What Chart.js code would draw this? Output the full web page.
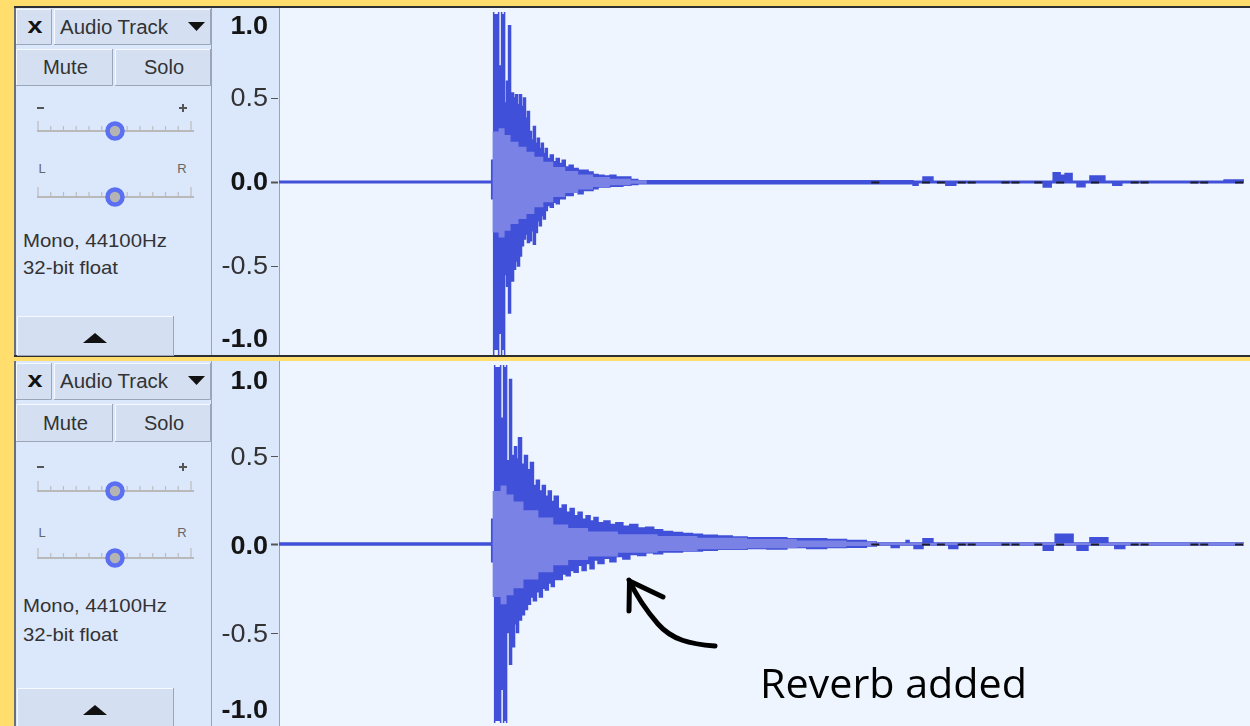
<!DOCTYPE html>
<html><head><meta charset="utf-8">
<script src="https://cdn.jsdelivr.net/npm/chart.js@4.4.1/dist/chart.umd.min.js"></script>
<style>
html,body{margin:0;padding:0}
body{width:1250px;height:726px;overflow:hidden;position:relative;background:#ffde6e;font-family:"Liberation Sans",Arial,sans-serif}
.abs{position:absolute}
.panel{background:#dbe7fb;border-left:2px solid #6a6f78;box-sizing:border-box}
.ruler{background:#dbe7fb;border-left:1px solid #9aa4b4;border-right:1px solid #9aa4b4;box-sizing:border-box}
.wave{background:#eef5ff}
.dark{background:#2e2f33}
</style></head><body>
<div class="abs panel" style="left:14px;top:8px;width:198px;height:348px"></div>
<div class="abs ruler" style="left:211px;top:8px;width:69px;height:348px"></div>
<div class="abs wave" style="left:280px;top:8px;width:970px;height:348px"></div>
<div class="abs dark" style="left:14px;top:6px;width:1236px;height:2px"></div>
<div class="abs dark" style="left:14px;top:355px;width:1236px;height:2px"></div>

<div class="abs panel" style="left:14px;top:361px;width:198px;height:365px"></div>
<div class="abs ruler" style="left:211px;top:361px;width:69px;height:365px"></div>
<div class="abs wave" style="left:280px;top:361px;width:970px;height:365px"></div>

<svg id="panels" class="abs" style="left:0;top:0" width="1250" height="726" font-family="Liberation Sans, Arial, sans-serif"></svg>

<div class="abs" style="left:212px;top:8px;width:1038px;height:348px"><canvas id="track1"></canvas></div>
<div class="abs" style="left:212px;top:361px;width:1038px;height:366px"><canvas id="track2"></canvas></div>

<svg class="abs" style="left:0;top:0" width="1250" height="726">
  <path d="M715,646 C690,644 672,640 658,624 C645,609 636,595 629,580" fill="none" stroke="#000" stroke-width="5" stroke-linecap="round"/>
  <path d="M629,611 L629.5,581 L663,597" fill="none" stroke="#000" stroke-width="5" stroke-linecap="round" stroke-linejoin="round"/>
  <text x="760" y="698" font-family="Open Sans, Noto Sans, sans-serif" font-size="40" textLength="267" lengthAdjust="spacingAndGlyphs" fill="#000">Reverb added</text>
</svg>

<script>
// ---------- data ----------
const trackName = 'Audio Track';
const trackFormat = ['Mono, 44100Hz', '32-bit float'];
const yTicks = [1, 0.5, 0, -0.5, -1];
const yTickLabels = ['1.0', '0.5', '0.0', '-0.5', '-1.0'];
const yTickBold = [true, false, true, false, true];
const timeRangeMs = [0, 1942];

// Track 1 (dry): peak envelope (value holds from its time to the next)
const t1PeakTime = [0,428,432,442,448,454,458,462,466,472,476,480,484,488,492,496,500,504,508,512,516,520,524,528,532,536,540,546,552,558,564,570,576,584,592,602,612,622,632,642,654,666,678,692,708,722,1276,1286,1296,1316,1342,1362,1538,1554,1558,1572,1582,1596,1606,1622,1632,1662,1678,1696,1902,1942];
const t1PeakMax = [0.005,0.13,1.1,0.69,1.1,0.47,0.6,0.93,0.53,0.5,0.52,0.46,0.52,0.45,0.5,0.38,0.42,0.3,0.25,0.33,0.23,0.26,0.2,0.23,0.17,0.2,0.14,0.16,0.12,0.14,0.11,0.13,0.09,0.1,0.08,0.07,0.07,0.06,0.045,0.04,0.035,0.04,0.03,0.03,0.015,0.008,0.005,0.005,0.03,0.005,0.005,0.005,0.005,0.005,0.055,0.04,0.05,0.005,0.005,0.005,0.035,0.005,0.005,0.005,0.012,0.012];
const t1PeakMin = [-0.005,-0.1,-1.1,-0.9,-1.1,-0.55,-0.62,-0.78,-0.59,-0.52,-0.47,-0.5,-0.44,-0.38,-0.34,-0.31,-0.36,-0.35,-0.29,-0.37,-0.3,-0.23,-0.26,-0.2,-0.22,-0.17,-0.14,-0.15,-0.12,-0.13,-0.1,-0.1,-0.08,-0.08,-0.06,-0.07,-0.05,-0.05,-0.04,-0.03,-0.03,-0.025,-0.025,-0.02,-0.015,-0.01,-0.02,-0.005,-0.005,-0.005,-0.02,-0.005,-0.03,-0.005,-0.005,-0.005,-0.005,-0.005,-0.028,-0.005,-0.005,-0.005,-0.02,-0.005,-0.005,-0.005];
const t1RmsTime = [0,430,442,454,466,482,498,514,532,552,576,602,632,666,708,740,1942];
const t1RmsMax = [0,0.3,0.32,0.28,0.24,0.21,0.18,0.15,0.12,0.09,0.065,0.045,0.03,0.02,0.01,0,0];
const t1RmsMin = [0,-0.3,-0.33,-0.29,-0.25,-0.22,-0.19,-0.15,-0.12,-0.09,-0.065,-0.045,-0.03,-0.02,-0.01,0,0];

// Track 2 (reverb added)
const t2PeakTime = [0,428,434,446,452,458,464,468,474,478,482,488,494,500,506,512,518,524,530,536,542,548,554,562,570,578,586,594,602,610,618,626,634,642,654,666,678,692,706,722,738,754,772,792,812,832,852,882,912,942,982,1022,1062,1102,1142,1182,1202,1232,1248,1262,1268,1278,1296,1316,1348,1366,1538,1558,1562,1598,1606,1628,1632,1668,1682,1702,1942];
const t2PeakMax = [0.005,0.14,1.1,0.71,1.1,0.47,0.93,0.5,0.55,0.48,0.6,0.45,0.5,0.42,0.46,0.33,0.36,0.3,0.33,0.27,0.3,0.24,0.27,0.2,0.22,0.18,0.2,0.16,0.18,0.14,0.16,0.13,0.15,0.12,0.13,0.11,0.12,0.1,0.11,0.09,0.095,0.08,0.07,0.065,0.06,0.055,0.05,0.045,0.04,0.035,0.035,0.03,0.03,0.025,0.02,0.012,0.005,0.005,0.005,0.02,0.005,0.005,0.03,0.005,0.005,0.005,0.005,0.005,0.055,0.005,0.005,0.005,0.035,0.005,0.005,0.005,0.005];
const t2PeakMin = [-0.005,-0.1,-1.1,-0.82,-1.1,-0.5,-0.68,-0.58,-0.45,-0.5,-0.43,-0.4,-0.37,-0.34,-0.3,-0.32,-0.27,-0.3,-0.25,-0.26,-0.22,-0.24,-0.2,-0.2,-0.17,-0.18,-0.15,-0.16,-0.12,-0.15,-0.11,-0.14,-0.09,-0.11,-0.08,-0.1,-0.07,-0.085,-0.06,-0.065,-0.05,-0.055,-0.045,-0.045,-0.04,-0.04,-0.035,-0.03,-0.03,-0.025,-0.028,-0.02,-0.025,-0.02,-0.018,-0.012,-0.005,-0.02,-0.005,-0.005,-0.005,-0.025,-0.005,-0.005,-0.025,-0.005,-0.035,-0.005,-0.005,-0.005,-0.035,-0.005,-0.005,-0.005,-0.025,-0.005,-0.005];
const t2RmsTime = [0,430,446,458,472,492,522,552,582,622,682,762,842,942,1042,1142,1202,1942];
const t2RmsMax = [0,0.3,0.33,0.28,0.24,0.19,0.15,0.11,0.09,0.07,0.055,0.045,0.035,0.028,0.02,0.013,0.005,0];
const t2RmsMin = [0,-0.3,-0.34,-0.29,-0.25,-0.2,-0.16,-0.12,-0.09,-0.07,-0.05,-0.04,-0.03,-0.024,-0.018,-0.012,-0.005,0];

// small dark marks along the zero line
const zeroDashTime = [1200,1302,1332,1374,1394,1462,1482,1528,1572,1642,1722,1742,1842,1862,1932];

// ---------- panels ----------
const PEAK = '#4150d8';
const RMS = '#7b82e6';

function panelMarkup(p) {
  const btn = (x1, y1, x2, y2) =>
    `<rect x="${x1}" y="${y1}" width="${x2 - x1}" height="${y2 - y1}" fill="#d4e0f2"/>` +
    `<path d="M${x1 + 0.5},${y2} V${y1 + 0.5} H${x2}" stroke="#f6f9ff" fill="none"/>` +
    `<path d="M${x1},${y2 - 0.5} H${x2 - 0.5} V${y1}" stroke="#9ba7b9" fill="none"/>`;
  const slider = (y) => {
    let s = `<line x1="37" y1="${y}" x2="194" y2="${y}" stroke="#b9b9b9" stroke-width="2"/>`;
    for (let k = 0; k <= 12; k++) {
      const x = 38 + k * 12.75;
      const h = (k === 0 || k === 12) ? 9 : 4;
      s += `<line x1="${x}" y1="${y - 1}" x2="${x}" y2="${y - 1 - h}" stroke="#bdbdbd" stroke-width="1.2"/>`;
    }
    s += `<circle cx="115" cy="${y}" r="7.5" fill="#b4b4b4" stroke="#5a6ff2" stroke-width="4.5"/>`;
    return s;
  };
  let s = '';
  s += btn(16, p.hdrTop, 52, p.hdrBot) + btn(54, p.hdrTop, 211, p.hdrBot);
  s += btn(16, p.muteTop, 113, p.muteBot) + btn(115, p.muteTop, 211, p.muteBot);
  s += btn(17, p.btnTop, 174, p.btnBot);
  s += `<text x="35" y="${p.nameBase - 1}" text-anchor="middle" font-weight="bold" font-size="22" textLength="15" lengthAdjust="spacingAndGlyphs" fill="#111">x</text>`;
  s += `<text x="60" y="${p.nameBase}" font-size="19.5" textLength="108" lengthAdjust="spacingAndGlyphs" fill="#333">${trackName}</text>`;
  s += `<polygon points="188,${p.nameBase - 12} 205,${p.nameBase - 12} 196.5,${p.nameBase - 3}" fill="#111"/>`;
  s += `<text x="65.5" y="${p.muteBase}" text-anchor="middle" font-size="19.5" textLength="45" lengthAdjust="spacingAndGlyphs" fill="#333">Mute</text>`;
  s += `<text x="164" y="${p.muteBase}" text-anchor="middle" font-size="19.5" textLength="40" lengthAdjust="spacingAndGlyphs" fill="#333">Solo</text>`;
  s += `<line x1="37" y1="${p.minus}" x2="44" y2="${p.minus}" stroke="#555" stroke-width="2"/>`;
  s += `<line x1="179" y1="${p.minus}" x2="187" y2="${p.minus}" stroke="#555" stroke-width="2"/>`;
  s += `<line x1="183" y1="${p.minus - 4}" x2="183" y2="${p.minus + 4}" stroke="#555" stroke-width="2"/>`;
  s += slider(p.gain);
  s += `<text x="42" y="${p.lrBase}" text-anchor="middle" font-size="13" fill="#666">L</text>`;
  s += `<text x="182" y="${p.lrBase}" text-anchor="middle" font-size="13" fill="#666">R</text>`;
  s += slider(p.pan);
  s += `<text x="23" y="${p.monoBase}" font-size="19" textLength="144" lengthAdjust="spacingAndGlyphs" fill="#333">${trackFormat[0]}</text>`;
  s += `<text x="23" y="${p.bitsBase}" font-size="19" textLength="95" lengthAdjust="spacingAndGlyphs" fill="#333">${trackFormat[1]}</text>`;
  s += `<polygon points="83,${p.tri + 5} 107,${p.tri + 5} 95,${p.tri - 5}" fill="#111"/>`;
  return s;
}
document.getElementById('panels').innerHTML =
  panelMarkup({hdrTop: 9, hdrBot: 45, muteTop: 49, muteBot: 86, nameBase: 34, muteBase: 74, minus: 108, gain: 131, lrBase: 173, pan: 197, monoBase: 247, bitsBase: 274, btnTop: 316, btnBot: 356, tri: 338}) +
  panelMarkup({hdrTop: 363, hdrBot: 400, muteTop: 404, muteBot: 442, nameBase: 388, muteBase: 430, minus: 467, gain: 491, lrBase: 537, pan: 558, monoBase: 612, bitsBase: 641, btnTop: 688, btnBot: 730, tri: 710});

// ---------- charts ----------
const rulerPlugin = {
  id: 'ruler',
  afterDraw(chart, args, opts) {
    const {ctx, chartArea} = chart;
    const sc = chart.scales.y;
    yTicks.forEach((v, i) => {
      let py = sc.getPixelForValue(v) + (opts.shift || 0);
      if (i === 0) py += opts.topShift;
      if (i === yTicks.length - 1) py += opts.bottomShift;
      ctx.save();
      ctx.font = (yTickBold[i] ? 'bold ' : '') + '25px "Liberation Sans", Arial, sans-serif';
      ctx.fillStyle = yTickBold[i] ? '#151515' : '#333';
      ctx.textAlign = 'right';
      ctx.textBaseline = 'middle';
      ctx.translate(chartArea.left - 11, py + 1);
      ctx.scale(1.08, 1);
      ctx.fillText(yTickLabels[i], 0, 0);
      ctx.restore();
      if (i > 0 && i < yTicks.length - 1) {
        ctx.save();
        ctx.strokeStyle = '#555';
        ctx.lineWidth = yTickBold[i] ? 2 : 1;
        ctx.beginPath();
        ctx.moveTo(chartArea.left - 8, Math.round(sc.getPixelForValue(v)) + 0.5);
        ctx.lineTo(chartArea.left - 1, Math.round(sc.getPixelForValue(v)) + 0.5);
        ctx.stroke();
        ctx.restore();
      }
    });
  }
};

function makeTrack(id, peakT, peakMax, peakMin, rmsT, rmsMax, rmsMin, padding, clip, ruler) {
  const pts = (t, v) => t.map((x, i) => ({x, y: v[i]}));
  return new Chart(document.getElementById(id), {
    type: 'line',
    data: {
      datasets: [
        {data: zeroDashTime.map(x => ({x, y: -0.003})), showLine: false, pointStyle: 'line', pointRadius: 4,
         pointBorderColor: '#1c1c28', pointBackgroundColor: '#1c1c28', pointBorderWidth: 2, clip},
        {data: pts(rmsT, rmsMax), stepped: true, borderWidth: 0, borderColor: 'rgba(0,0,0,0)', pointRadius: 0,
         fill: '+1', backgroundColor: RMS, clip},
        {data: pts(rmsT, rmsMin), stepped: true, borderWidth: 0, borderColor: 'rgba(0,0,0,0)', pointRadius: 0,
         fill: false, clip},
        {data: pts(peakT, peakMax), stepped: true, borderWidth: 1.5, borderColor: PEAK, pointRadius: 0,
         fill: '+1', backgroundColor: PEAK, clip},
        {data: pts(peakT, peakMin), stepped: true, borderWidth: 1.5, borderColor: PEAK, pointRadius: 0,
         fill: false, clip}
      ]
    },
    options: {
      responsive: true, maintainAspectRatio: false, animation: false, events: [],
      layout: {padding},
      plugins: {legend: {display: false}, tooltip: {enabled: false}, ruler},
      scales: {
        x: {type: 'linear', min: timeRangeMs[0], max: timeRangeMs[1], display: false},
        y: {min: -1, max: 1, grid: {display: false}, border: {display: false}, ticks: {display: false},
            afterFit(s) { s.width = 67; }}
      }
    },
    plugins: [rulerPlugin]
  });
}

makeTrack('track1', t1PeakTime, t1PeakMax, t1PeakMin, t1RmsTime, t1RmsMax, t1RmsMin,
  {top: 2, bottom: 6, left: 0, right: 0}, {left: 0, right: 0, top: 2, bottom: 5},
  {topShift: 12, bottomShift: -11, shift: 0});
makeTrack('track2', t2PeakTime, t2PeakMax, t2PeakMin, t2RmsTime, t2RmsMax, t2RmsMin,
  {top: 2, bottom: 2, left: 0, right: 0}, {left: 0, right: 0, top: 2, bottom: 2},
  {topShift: 12, bottomShift: -13, shift: 2});
</script>
</body></html>
